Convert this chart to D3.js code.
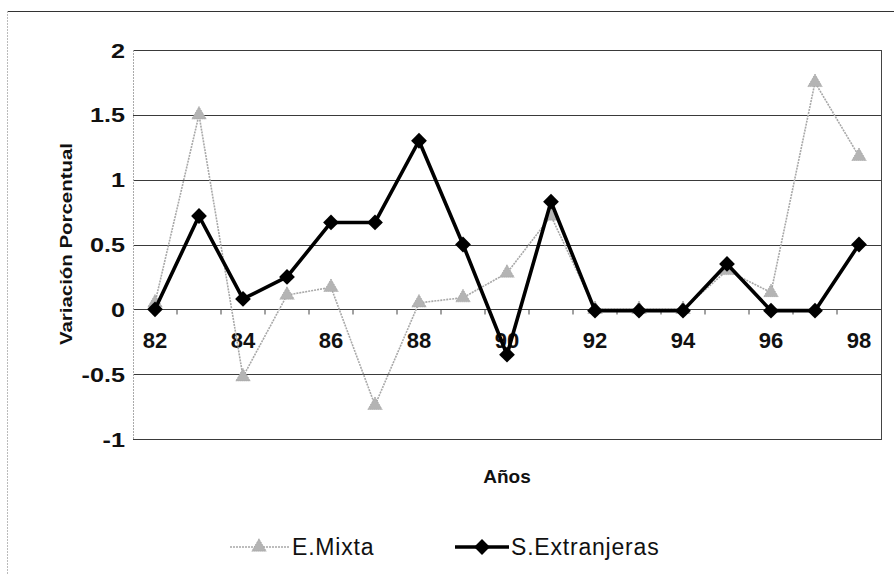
<!DOCTYPE html>
<html><head><meta charset="utf-8">
<script src="https://cdn.jsdelivr.net/npm/d3@7"></script>
<style>body{margin:0;background:#fff;}svg{display:block;font-family:Arial,"Liberation Sans",sans-serif;}</style>
</head><body>
<svg id="c" width="894" height="574"></svg>
<script>
const years = ["82","83","84","85","86","87","88","89","90","91","92","93","94","95","96","97","98"];
const tickLabels = ["82","84","86","88","90","92","94","96","98"];
const eMixta = [0.05, 1.5, -0.52, 0.11, 0.17, -0.74, 0.05, 0.09, 0.28, 0.72, 0, 0, 0, 0.3, 0.13, 1.75, 1.18];
const sExtranjeras = [0, 0.72, 0.08, 0.25, 0.67, 0.67, 1.3, 0.5, -0.35, 0.83, -0.01, -0.01, -0.01, 0.35, -0.01, -0.01, 0.5];
const yTicks = [-1, -0.5, 0, 0.5, 1, 1.5, 2];
const seriesNames = ["E.Mixta", "S.Extranjeras"];

const svg = d3.select("#c");
const L = 133, R = 881, T = 50, B = 439;
const x = d3.scaleBand().domain(years).range([L, R]);
const y = d3.scaleLinear().domain([-1, 2]).range([B, T]);
const cx = d => x(d) + x.bandwidth() / 2;

// outer chart border
svg.append("line").attr("x1", 7).attr("x2", 894).attr("y1", 11.5).attr("y2", 11.5).attr("stroke", "#333").attr("stroke-width", 1.2);
svg.append("line").attr("x1", 7.5).attr("x2", 7.5).attr("y1", 11).attr("y2", 574).attr("stroke", "#bbb").attr("stroke-width", 1).attr("stroke-dasharray", "2,1");

// gridlines
svg.append("g").selectAll("line").data(yTicks).join("line")
  .attr("x1", L).attr("x2", R).attr("y1", d => Math.round(y(d)) + 0.5).attr("y2", d => Math.round(y(d)) + 0.5)
  .attr("stroke", "#3a3a3a").attr("stroke-width", 1);
// plot borders
svg.append("line").attr("x1", L + 0.5).attr("x2", L + 0.5).attr("y1", T).attr("y2", B + 1).attr("stroke", "#aaa").attr("stroke-dasharray", "2,1");
svg.append("line").attr("x1", R + 0.5).attr("x2", R + 0.5).attr("y1", T).attr("y2", B + 1).attr("stroke", "#444");

// y labels
svg.append("g").selectAll("text").data(yTicks).join("text")
  .attr("transform", d => `translate(125,${y(d) + 7.5}) scale(1.2,1)`)
  .attr("text-anchor", "end").attr("font-size", 21).attr("font-weight", "bold").attr("fill", "#111")
  .text(d => String(d));

// x axis at 0 with ticks at category boundaries
const y0 = Math.round(y(0)) + 0.5;
const bounds = years.map(d => x(d)).concat([R]);
svg.append("g").selectAll("line").data(bounds.slice(1, -1)).join("line")
  .attr("x1", d => d).attr("x2", d => d).attr("y1", y0).attr("y2", y0 + 5)
  .attr("stroke", "#444").attr("stroke-width", 1);
svg.append("g").selectAll("text").data(tickLabels).join("text")
  .attr("x", d => cx(d)).attr("y", y0 + 38)
  .attr("text-anchor", "middle").attr("font-size", 22).attr("font-weight", "bold").attr("fill", "#111")
  .text(d => d);

// axis titles
svg.append("text").attr("transform", "translate(72,244) rotate(-90)")
  .attr("text-anchor", "middle").attr("font-size", 16).attr("font-weight", "bold").attr("fill", "#111")
  .attr("textLength", 202).attr("lengthAdjust", "spacingAndGlyphs")
  .text("Variación Porcentual");
svg.append("text").attr("x", (L + R) / 2).attr("y", 483)
  .attr("text-anchor", "middle").attr("font-size", 19).attr("font-weight", "bold").attr("fill", "#111")
  .text("Años");

// series E.Mixta (gray)
const line = d3.line().x((d, i) => cx(years[i])).y(d => y(d));
svg.append("path").datum(eMixta).attr("d", line).attr("fill", "none")
  .attr("stroke", "#a8a8a8").attr("stroke-width", 1.6).attr("stroke-dasharray", "2,1");
const tri = d3.symbol().type(d3.symbolTriangle).size(90);
svg.append("g").selectAll("path").data(eMixta).join("path")
  .attr("d", tri).attr("transform", (d, i) => `translate(${cx(years[i])},${y(d)})`)
  .attr("fill", "#b4b4b4").attr("stroke", "#9a9a9a").attr("stroke-width", 0.8).attr("stroke-dasharray", "1,1");

// series S.Extranjeras (black)
svg.append("path").datum(sExtranjeras).attr("d", line).attr("fill", "none")
  .attr("stroke", "#000").attr("stroke-width", 3.6).attr("stroke-linejoin", "round");
const dia = d3.symbol().type(d3.symbolSquare).size(125);
svg.append("g").selectAll("path").data(sExtranjeras).join("path")
  .attr("d", dia).attr("transform", (d, i) => `translate(${cx(years[i])},${y(d)}) rotate(45)`)
  .attr("fill", "#000");

// legend
const ly = 555;
const lg = svg.append("g");
lg.append("line").attr("x1", 230).attr("x2", 290).attr("y1", ly - 8).attr("y2", ly - 8)
  .attr("stroke", "#a8a8a8").attr("stroke-width", 1.6).attr("stroke-dasharray", "2,1");
lg.append("path").attr("d", tri).attr("transform", `translate(259,${ly - 8})`)
  .attr("fill", "#b4b4b4").attr("stroke", "#9a9a9a").attr("stroke-width", 0.8).attr("stroke-dasharray", "1,1");
lg.append("text").attr("x", 292).attr("y", ly).attr("font-size", 23).attr("letter-spacing", 0.8).attr("fill", "#111").text(seriesNames[0]);
lg.append("line").attr("x1", 455).attr("x2", 509).attr("y1", ly - 8).attr("y2", ly - 8)
  .attr("stroke", "#000").attr("stroke-width", 3.6);
lg.append("path").attr("d", dia).attr("transform", `translate(482,${ly - 8}) rotate(45)`).attr("fill", "#000");
lg.append("text").attr("x", 511).attr("y", ly).attr("font-size", 23).attr("letter-spacing", 0.8).attr("fill", "#111").text(seriesNames[1]);
</script>
</body></html>
